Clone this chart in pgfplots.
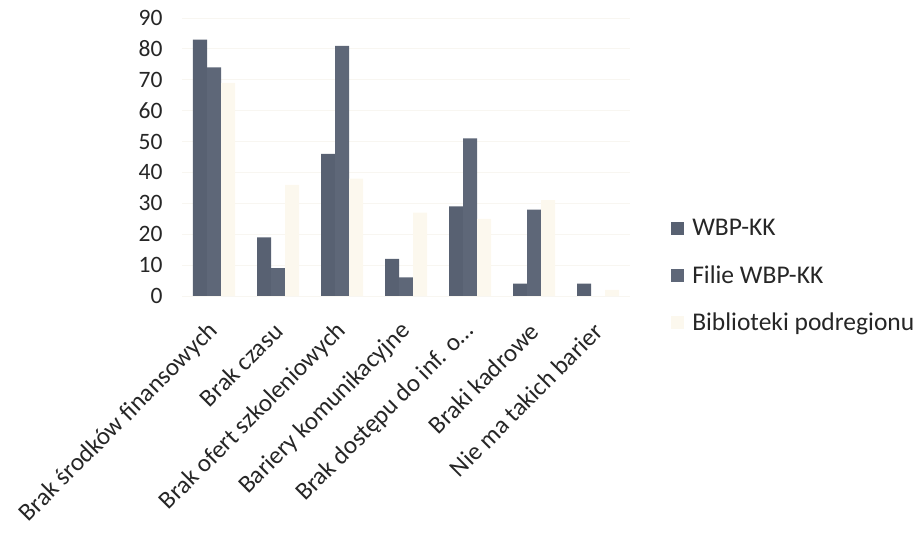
\documentclass[border=0pt]{standalone}
\usepackage{fontspec}
\setmainfont{Carlito}
\usepackage{pgfplots}
\pgfplotsset{compat=1.18}
\definecolor{barA}{RGB}{88,97,114}
\definecolor{barB}{RGB}{94,103,120}
\definecolor{barC}{RGB}{252,248,238}
\definecolor{gridc}{RGB}{248,246,241}
\begin{document}
\begin{tikzpicture}
\begin{axis}[
  at={(182bp,239bp)}, anchor=south west,
  scale only axis, width=448bp, height=278bp,
  xmin=-0.5, xmax=6.5, ymin=0, ymax=90,
  ybar=0pt, bar width=14bp,
  axis line style={draw=none},
  xtick={0,...,6}, ytick={0,10,...,90},
  xticklabels={Brak środków finansowych, Brak czasu, Brak ofert szkoleniowych, Bariery komunikacyjne, Brak dostępu do inf. o\ldots, Braki kadrowe, Nie ma takich barier},
  major tick length=0pt,
  ymajorgrids, grid style={draw=gridc, line width=0.8bp},
  /pgf/number format/assume math mode=true,
  tick label style={text=black!85},
  xticklabel style={font=\fontsize{25bp}{28bp}\selectfont, xshift=3bp, yshift=-29bp, rotate=45, anchor=east},
  yticklabel style={font=\fontsize{23.5bp}{26bp}\selectfont, anchor=east, xshift=-16bp},
  legend style={at={(1.085,0.29)}, anchor=north west, draw=none, fill=none,
    font=\fontsize{25.5bp}{28bp}\selectfont, row sep=24bp, text=black!85,
    legend cell align=left,
    /tikz/every odd column/.append style={column sep=6bp}},
  legend image code/.code={\fill[#1] (0bp,-6.5bp) rectangle (13bp,6.5bp);},
]
\addplot[fill=barA, draw=none] coordinates {(0,83) (1,19) (2,46) (3,12) (4,29) (5,4) (6,4)};
\addplot[fill=barB, draw=none] coordinates {(0,74) (1,9) (2,81) (3,6) (4,51) (5,28) (6,0)};
\addplot[fill=barC, draw=none] coordinates {(0,69) (1,36) (2,38) (3,27) (4,25) (5,31) (6,2)};
\legend{WBP-KK, Filie WBP-KK, Biblioteki podregionu}
\end{axis}
\path[use as bounding box] (0,0) rectangle (924bp,535bp);
\end{tikzpicture}
\end{document}
